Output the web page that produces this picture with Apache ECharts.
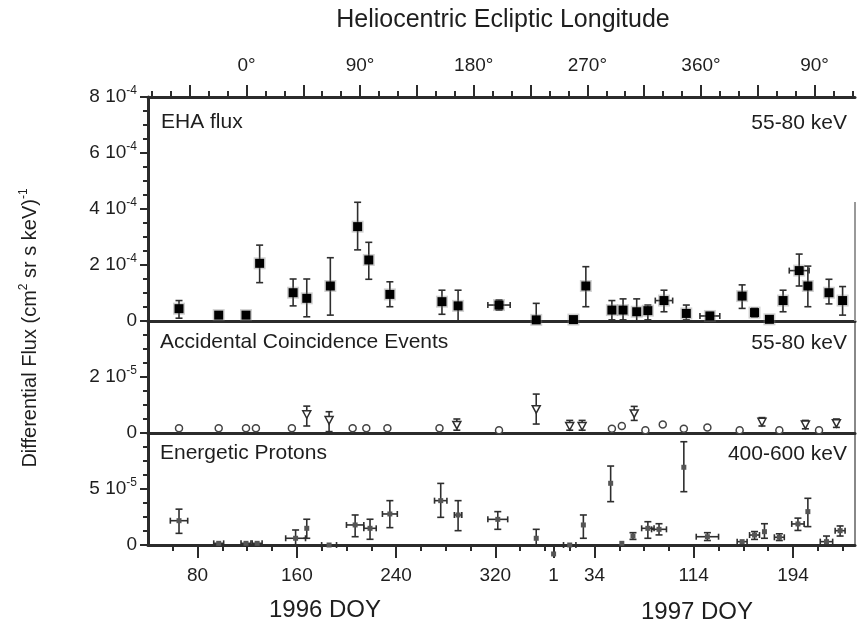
<!DOCTYPE html>
<html><head><meta charset="utf-8">
<script src="https://cdn.jsdelivr.net/npm/echarts@6/dist/echarts.min.js"></script>
<style>html,body{margin:0;padding:0;background:#fff}#c{width:857px;height:626px}</style>
</head><body><div id="c"></div>
<script>
// ---------- DATA ----------
// x = day count from 1996 Jan 1 (1996 DOY; 1997 DOY n -> 366 + n)
const ehaDay    = [65, 97, 119, 130, 157, 168, 187, 209, 218, 235, 277, 290, 323, 353, 383, 393, 414, 423, 434, 443, 456, 474, 493, 519, 529, 541, 552, 565, 572, 589, 600];
const ehaFlux   = [0.44e-4, 0.21e-4, 0.21e-4, 2.06e-4, 1.01e-4, 0.81e-4, 1.25e-4, 3.37e-4, 2.18e-4, 0.95e-4, 0.69e-4, 0.54e-4, 0.57e-4, 0.04e-4, 0.05e-4, 1.25e-4, 0.39e-4, 0.39e-4, 0.33e-4, 0.37e-4, 0.73e-4, 0.27e-4, 0.18e-4, 0.89e-4, 0.30e-4, 0.06e-4, 0.73e-4, 1.80e-4, 1.25e-4, 1.01e-4, 0.73e-4];
const ehaHigh   = [0.73e-4, 0.21e-4, 0.21e-4, 2.71e-4, 1.50e-4, 1.50e-4, 2.26e-4, 4.24e-4, 2.81e-4, 1.40e-4, 1.10e-4, 1.10e-4, 0.75e-4, 0.63e-4, 0.05e-4, 1.94e-4, 0.73e-4, 0.79e-4, 0.79e-4, 0.57e-4, 1.10e-4, 0.57e-4, 0.30e-4, 1.29e-4, 0.45e-4, 0.15e-4, 1.10e-4, 2.39e-4, 1.96e-4, 1.49e-4, 1.23e-4];
const ehaLow    = [0.10e-4, 0.21e-4, 0.21e-4, 1.37e-4, 0.54e-4, 0.15e-4, 0.21e-4, 2.54e-4, 1.49e-4, 0.51e-4, 0.24e-4, 0.00e-4, 0.39e-4, 0.00e-4, 0.05e-4, 0.51e-4, 0.04e-4, 0.04e-4, 0.00e-4, 0.04e-4, 0.33e-4, 0.04e-4, 0.04e-4, 0.45e-4, 0.15e-4, 0.00e-4, 0.33e-4, 1.25e-4, 0.51e-4, 0.61e-4, 0.21e-4];
const ehaDayErr = [0, 0, 0, 0, 0, 0, 0, 0, 0, 0, 0, 0, 9, 0, 0, 0, 0, 0, 0, 0, 7, 0, 8, 0, 0, 0, 0, 8, 0, 0, 0];

const aceDay    = [65, 97, 119, 127, 156, 168, 186, 205, 216, 233, 275, 289, 323, 353, 380, 390, 414, 422, 432, 441, 455, 472, 491, 517, 535, 549, 570, 581, 595];
const aceFlux   = [0.17e-5, 0.17e-5, 0.17e-5, 0.17e-5, 0.17e-5, 0.67e-5, 0.46e-5, 0.17e-5, 0.17e-5, 0.17e-5, 0.17e-5, 0.29e-5, 0.10e-5, 0.85e-5, 0.25e-5, 0.25e-5, 0.15e-5, 0.25e-5, 0.70e-5, 0.10e-5, 0.30e-5, 0.15e-5, 0.20e-5, 0.10e-5, 0.40e-5, 0.10e-5, 0.30e-5, 0.10e-5, 0.35e-5];
const aceHigh   = [0.17e-5, 0.17e-5, 0.17e-5, 0.17e-5, 0.17e-5, 0.96e-5, 0.76e-5, 0.17e-5, 0.17e-5, 0.17e-5, 0.17e-5, 0.50e-5, 0.10e-5, 1.39e-5, 0.45e-5, 0.45e-5, 0.15e-5, 0.25e-5, 0.95e-5, 0.10e-5, 0.30e-5, 0.15e-5, 0.20e-5, 0.10e-5, 0.55e-5, 0.10e-5, 0.45e-5, 0.10e-5, 0.50e-5];
const aceLow    = [0.17e-5, 0.17e-5, 0.17e-5, 0.17e-5, 0.17e-5, 0.25e-5, 0.05e-5, 0.17e-5, 0.17e-5, 0.17e-5, 0.17e-5, 0.10e-5, 0.10e-5, 0.32e-5, 0.10e-5, 0.10e-5, 0.15e-5, 0.25e-5, 0.45e-5, 0.10e-5, 0.30e-5, 0.15e-5, 0.20e-5, 0.10e-5, 0.25e-5, 0.10e-5, 0.15e-5, 0.10e-5, 0.20e-5];
const aceDayErr = [0, 0, 0, 0, 0, 0, 0, 0, 0, 0, 0, 0, 0, 0, 0, 0, 0, 0, 0, 0, 0, 0, 0, 0, 0, 0, 0, 0, 0];

const protonDay    = [65, 97, 119, 128, 159, 168, 186, 207, 219, 235, 276, 290, 322, 353, 367, 380, 391, 413, 422, 431, 443, 452, 472, 491, 519, 529, 537, 549, 564, 572, 587, 598];
const protonFlux   = [2.17e-5, 0.15e-5, 0.15e-5, 0.15e-5, 0.60e-5, 1.49e-5, 0.00e-5, 1.79e-5, 1.49e-5, 2.77e-5, 3.96e-5, 2.68e-5, 2.29e-5, 0.60e-5, -0.80e-5, 0.00e-5, 1.79e-5, 5.51e-5, 0.15e-5, 0.80e-5, 1.49e-5, 1.40e-5, 6.94e-5, 0.74e-5, 0.30e-5, 0.89e-5, 1.19e-5, 0.69e-5, 1.88e-5, 2.98e-5, 0.30e-5, 1.28e-5];
const protonHigh   = [3.20e-5, 0.15e-5, 0.15e-5, 0.15e-5, 1.34e-5, 2.30e-5, 0.00e-5, 2.68e-5, 2.30e-5, 3.96e-5, 5.50e-5, 3.96e-5, 2.98e-5, 1.40e-5, -0.80e-5, 0.00e-5, 2.68e-5, 7.05e-5, 0.15e-5, 1.10e-5, 2.08e-5, 1.90e-5, 9.22e-5, 1.10e-5, 0.30e-5, 1.20e-5, 1.90e-5, 1.00e-5, 2.40e-5, 4.17e-5, 0.80e-5, 1.70e-5];
const protonLow    = [1.04e-5, 0.15e-5, 0.15e-5, 0.15e-5, 0.00e-5, 0.60e-5, 0.00e-5, 0.74e-5, 0.51e-5, 1.55e-5, 2.47e-5, 1.28e-5, 1.40e-5, 0.00e-5, -0.80e-5, 0.00e-5, 0.60e-5, 3.87e-5, 0.15e-5, 0.50e-5, 0.60e-5, 0.90e-5, 4.76e-5, 0.40e-5, 0.30e-5, 0.50e-5, 0.60e-5, 0.40e-5, 1.30e-5, 1.64e-5, 0.00e-5, 0.80e-5];
const protonDayErr = [7, 4, 4, 4, 8, 0, 6, 7, 5, 6, 5, 3, 8, 0, 0, 5, 0, 0, 0, 0, 5, 6, 0, 9, 4, 4, 0, 4, 5, 0, 5, 4];

// tick values & labels
const doyMajorTicks  = [80, 160, 240, 320, 367, 400, 480, 560];
const doyTickLabels  = ['80', '160', '240', '320', '1', '34', '114', '194'];
const doyMinorTicks  = [60, 100, 120, 140, 180, 200, 220, 260, 280, 300, 340, 360, 380, 420, 440, 460, 500, 520, 540, 580, 600];
const lonLabelTicks  = [0, 90, 180, 270, 360, 450];
const lonTickLabels  = ['0°', '90°', '180°', '270°', '360°', '90°'];
const lonMajorTicks  = [-45, 0, 45, 90, 135, 180, 225, 270, 315, 360, 405, 450];
const lonMinorTicks  = [-75, -60, -30, -15, 15, 30, 60, 75, 105, 120, 150, 165, 195, 210, 240, 255, 285, 300, 330, 345, 375, 390, 420, 435, 465, 480];
const ehaTicks       = ['0', '2 10|-4', '4 10|-4', '6 10|-4', '8 10|-4'];
const aceTicks       = ['0', '2 10|-5', ''];
const protonTicks    = ['0', '5 10|-5', ''];

// ---------- CHART ----------
const FONT = 'Liberation Sans, Arial, Helvetica, sans-serif';
const TXT = '#1e1e1e';
const AX = '#2b2b2b';

function zip(d, v, lo, hi, xe) { return d.map((x, i) => [x, v[i], lo[i], hi[i], xe[i]]); }

function sciFmt(list) {
  return function (v, i) {
    const s = list[i];
    if (s === undefined || s === '') return '';
    const parts = s.split('|');
    if (parts.length === 1) return '{m|' + parts[0] + '}';
    return '{m|' + parts[0] + '}{e|' + parts[1] + '}';
  };
}
const sciRich = {
  m: { fontFamily: FONT, fontSize: 19, color: TXT, lineHeight: 24 },
  e: { fontFamily: FONT, fontSize: 12, color: TXT, lineHeight: 13, verticalAlign: 'top' }
};

function makeRender(kind) {
  return function (params, api) {
    const x = api.value(0), y = api.value(1), lo = api.value(2), hi = api.value(3), xe = api.value(4);
    const p = api.coord([x, y]);
    const ch = [];
    const bs = { stroke: '#2e2e2e', lineWidth: 1.6 };
    const cap = 3.5;
    if (hi > lo) {
      const a = api.coord([x, hi]), b = api.coord([x, lo]);
      ch.push({ type: 'line', shape: { x1: p[0], y1: a[1], x2: p[0], y2: b[1] }, style: bs });
      ch.push({ type: 'line', shape: { x1: p[0] - cap, y1: a[1], x2: p[0] + cap, y2: a[1] }, style: bs });
      ch.push({ type: 'line', shape: { x1: p[0] - cap, y1: b[1], x2: p[0] + cap, y2: b[1] }, style: bs });
    }
    if (xe > 0) {
      const l = api.coord([x - xe, y]), r = api.coord([x + xe, y]);
      ch.push({ type: 'line', shape: { x1: l[0], y1: p[1], x2: r[0], y2: p[1] }, style: bs });
      ch.push({ type: 'line', shape: { x1: l[0], y1: p[1] - 3, x2: l[0], y2: p[1] + 3 }, style: bs });
      ch.push({ type: 'line', shape: { x1: r[0], y1: p[1] - 3, x2: r[0], y2: p[1] + 3 }, style: bs });
    }
    if (kind === 'eha') {
      ch.push({ type: 'rect', shape: { x: p[0] - 6, y: p[1] - 6, width: 12, height: 12 }, style: { fill: 'rgba(120,120,120,0.35)' } });
      ch.push({ type: 'rect', shape: { x: p[0] - 4.5, y: p[1] - 4.5, width: 9, height: 9 }, style: { fill: '#000' } });
    } else if (kind === 'ace') {
      if (hi > lo) {
        ch.push({ type: 'polygon', shape: { points: [[p[0] - 4, p[1] - 3.5], [p[0] + 4, p[1] - 3.5], [p[0], p[1] + 4]] }, style: { fill: '#fff', stroke: '#2e2e2e', lineWidth: 1.5 } });
      } else {
        ch.push({ type: 'circle', shape: { cx: p[0], cy: p[1], r: 3.5 }, style: { fill: '#fff', stroke: '#444', lineWidth: 1.5 } });
      }
    } else {
      ch.push({ type: 'rect', shape: { x: p[0] - 2.5, y: p[1] - 2.5, width: 5, height: 5 }, style: { fill: '#555' } });
    }
    return { type: 'group', children: ch };
  };
}

const grids = [
  { left: 148, right: 2, top: 97, height: 224 },
  { left: 148, right: 2, top: 321, height: 112 },
  { left: 148, right: 2, top: 433, height: 112 }
];

function baseX(grid, extra) {
  return Object.assign({
    type: 'value', gridIndex: grid, min: 40, max: 610, position: 'bottom',
    axisLine: { show: true, onZero: false, lineStyle: { color: AX, width: 3 } },
    axisTick: { show: false }, axisLabel: { show: false }, splitLine: { show: false }
  }, extra || {});
}
function lonX(extra) {
  return Object.assign({
    type: 'value', gridIndex: 0, min: -78, max: 482, position: 'top',
    axisLine: { show: false, onZero: false },
    axisTick: { show: false }, axisLabel: { show: false }, splitLine: { show: false }
  }, extra || {});
}

const xAxis = [
  baseX(0),                                   // 0 EHA data axis
  lonX({ axisLine: { show: true, onZero: false, lineStyle: { color: AX, width: 3 } },
         axisTick: { show: true, customValues: lonMinorTicks, length: 6, lineStyle: { color: AX, width: 2 } } }), // 1
  lonX({ axisTick: { show: true, customValues: lonMajorTicks, length: 12, lineStyle: { color: AX, width: 2 } },
         axisLabel: { show: true, customValues: lonLabelTicks, margin: 22, fontFamily: FONT, fontSize: 19, color: TXT,
                      formatter: v => lonTickLabels[lonLabelTicks.indexOf(v)] } }), // 2
  baseX(1),                                   // 3 ACE data axis
  baseX(2, { axisTick: { show: true, customValues: doyMinorTicks, length: 6, lineStyle: { color: AX, width: 2 } } }), // 4 proton data axis
  baseX(2, { axisLine: { show: false, onZero: false },
             axisTick: { show: true, customValues: doyMajorTicks, length: 13, lineStyle: { color: AX, width: 2 } },
             axisLabel: { show: true, customValues: doyMajorTicks, margin: 21, fontFamily: FONT, fontSize: 19, color: TXT,
                          formatter: v => doyTickLabels[doyMajorTicks.indexOf(v)] } }) // 5
];

function leftY(grid, max, interval, labels) {
  return {
    type: 'value', gridIndex: grid, min: 0, max: max, interval: interval, position: 'left',
    axisLine: { show: true, onZero: false, lineStyle: { color: AX, width: 3 } },
    axisTick: { show: true, inside: false, length: 8, lineStyle: { color: AX, width: 2 } },
    minorTick: { show: true, splitNumber: 4, length: 5, lineStyle: { color: AX, width: 2 } },
    axisLabel: { show: true, margin: 11, formatter: sciFmt(labels), rich: sciRich },
    splitLine: { show: false }, minorSplitLine: { show: false }
  };
}
function rightY(grid, max) {
  return {
    type: 'value', gridIndex: grid, min: 0, max: max, position: 'right',
    axisLine: { show: true, onZero: false, lineStyle: { color: '#888', width: 2 } },
    axisTick: { show: false }, axisLabel: { show: false }, splitLine: { show: false }
  };
}
const yAxis = [
  leftY(0, 8e-4, 2e-4, ehaTicks),
  leftY(1, 4e-5, 2e-5, aceTicks),
  leftY(2, 1e-4, 5e-5, protonTicks),
  rightY(1, 4e-5),
  rightY(2, 1e-4)
];

const series = [
  { type: 'custom', name: 'EHA flux', xAxisIndex: 0, yAxisIndex: 0, clip: false, renderItem: makeRender('eha'),
    encode: { x: 0, y: 1 }, data: zip(ehaDay, ehaFlux, ehaLow, ehaHigh, ehaDayErr), z: 5 },
  { type: 'custom', name: 'Accidental Coincidence Events', xAxisIndex: 3, yAxisIndex: 1, clip: false, renderItem: makeRender('ace'),
    encode: { x: 0, y: 1 }, data: zip(aceDay, aceFlux, aceLow, aceHigh, aceDayErr), z: 5 },
  { type: 'custom', name: 'Energetic Protons', xAxisIndex: 4, yAxisIndex: 2, clip: false, renderItem: makeRender('proton'),
    encode: { x: 0, y: 1 }, data: zip(protonDay, protonFlux, protonLow, protonHigh, protonDayErr), z: 5 }
];

const panelFont = { fontFamily: FONT, fontSize: 21, fill: TXT };
function txt(x, y, text, align, extra) {
  return { type: 'text', x: x, y: y, z: 10,
    style: Object.assign({ text: text, textAlign: align, textVerticalAlign: 'middle' }, panelFont, extra || {}) };
}

const graphic = [
  txt(503, 20, 'Heliocentric Ecliptic Longitude', 'center', { fontSize: 25 }),
  txt(161, 122, 'EHA flux', 'left'),
  txt(847, 123, '55-80 keV', 'right'),
  txt(160, 342, 'Accidental Coincidence Events', 'left'),
  txt(847, 343, '55-80 keV', 'right'),
  txt(160, 453, 'Energetic Protons', 'left'),
  txt(847, 454, '400-600 keV', 'right'),
  txt(325, 610, '1996 DOY', 'center', { fontSize: 24 }),
  txt(697, 612, '1997 DOY', 'center', { fontSize: 24 }),
  { type: 'text', x: 30, y: 328, rotation: Math.PI / 2, z: 10,
    style: { text: '{m|Differential Flux (cm}{e|2}{m| sr s keV)}{e|-1}', textAlign: 'center', textVerticalAlign: 'middle',
      rich: { m: { fontFamily: FONT, fontSize: 20, fill: TXT, lineHeight: 24 },
              e: { fontFamily: FONT, fontSize: 12, fill: TXT, lineHeight: 13, verticalAlign: 'top' } } } },
  { type: 'line', z: 1, shape: { x1: 855, y1: 202, x2: 855, y2: 321 }, style: { stroke: '#999', lineWidth: 2 } }
];

const chart = echarts.init(document.getElementById('c'), null, { renderer: 'canvas' });
chart.setOption({
  animation: false,
  backgroundColor: '#fff',
  grid: grids,
  xAxis: xAxis,
  yAxis: yAxis,
  series: series,
  graphic: graphic
});
</script></body></html>
